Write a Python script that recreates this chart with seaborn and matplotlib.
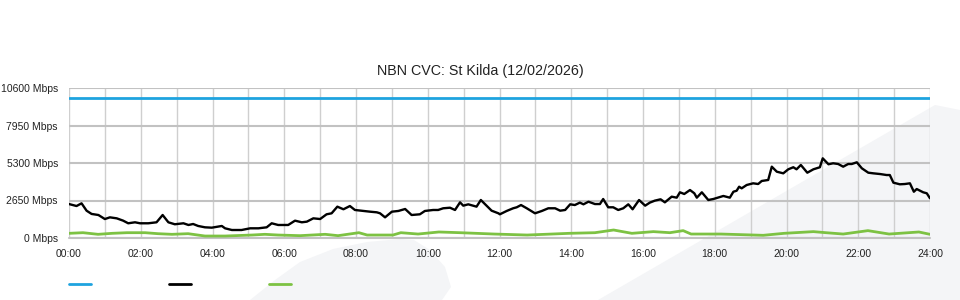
import matplotlib
matplotlib.use("Agg")
import matplotlib.pyplot as plt
from matplotlib.patches import Polygon
from matplotlib.lines import Line2D
import seaborn as sns
import pandas as pd
import numpy as np

# ---------------- data ----------------
title = "NBN CVC: St Kilda (12/02/2026)"
capacity_hours = [0, 24]
capacity_mbps = [9900, 9900]

traffic_hours = [0.00, 0.21, 0.35, 0.49, 0.63, 0.82, 1.00, 1.14, 1.33, 1.51, 1.65, 1.84, 1.98,
                 2.21, 2.44, 2.61, 2.77, 2.95, 3.19, 3.33, 3.46, 3.60, 3.79, 3.98, 4.26, 4.35,
                 4.54, 4.81, 5.05, 5.28, 5.51, 5.65, 5.83, 5.97, 6.11, 6.30, 6.49, 6.63, 6.81,
                 7.00, 7.18, 7.32, 7.48, 7.65, 7.83, 7.97, 8.20, 8.39, 8.58, 8.67, 8.81, 9.00,
                 9.18, 9.37, 9.55, 9.78, 9.92, 10.15, 10.29, 10.43, 10.62, 10.76, 10.90, 10.99,
                 11.13, 11.36, 11.48, 11.64, 11.78, 11.97, 12.01, 12.20, 12.38, 12.48, 12.60,
                 12.76, 12.99, 13.18, 13.36, 13.55, 13.69, 13.83, 13.97, 14.10, 14.24, 14.34,
                 14.48, 14.66, 14.80, 14.89, 15.03, 15.17, 15.31, 15.45, 15.59, 15.71, 15.89,
                 16.06, 16.19, 16.33, 16.49, 16.61, 16.80, 16.94, 17.03, 17.15, 17.31, 17.43,
                 17.50, 17.64, 17.82, 17.96, 18.24, 18.42, 18.52, 18.61, 18.68, 18.75, 18.89,
                 19.07, 19.21, 19.31, 19.49, 19.59, 19.73, 19.91, 20.05, 20.19, 20.28, 20.40,
                 20.58, 20.75, 20.93, 21.01, 21.17, 21.30, 21.44, 21.58, 21.72, 21.82, 21.96,
                 22.10, 22.28, 22.42, 22.61, 22.79, 22.88, 22.98, 23.16, 23.30, 23.44, 23.55,
                 23.63, 23.81, 23.91, 24.00]
traffic_mbps = [2400, 2260, 2450, 1930, 1700, 1625, 1340, 1460, 1390, 1225, 1040, 1110, 1040,
                1040, 1110, 1625, 1110, 970, 1040, 920, 990, 850, 755, 730, 850, 685,
                565, 565, 685, 685, 755, 1040, 920, 920, 920, 1225, 1110, 1155, 1390,
                1340, 1675, 1745, 2215, 2030, 2260, 1980, 1910, 1860, 1815, 1745, 1460, 1860,
                1910, 2050, 1625, 1675, 1910, 1980, 1980, 2100, 2140, 1980, 2520, 2285,
                2380, 2215, 2685, 2285, 1930, 1745, 1675, 1910, 2100, 2170, 2330,
                2100, 1745, 1910, 2100, 2100, 1930, 1980, 2380, 2330, 2500, 2380,
                2565, 2400, 2400, 2755, 2170, 2170, 1980, 2100, 2380, 2030, 2685,
                2285, 2500, 2640, 2735, 2520, 2920, 2850, 3230, 3110, 3390, 3160,
                2850, 3230, 2685, 2755, 2970, 2850, 3270, 3340, 3625, 3510, 3745,
                3865, 3815, 4030, 4100, 5040, 4685, 4570, 4855, 5000, 4855, 5160,
                4615, 4855, 5000, 5630, 5210, 5280, 5230, 5040, 5230, 5230, 5350,
                4925, 4615, 4570, 4520, 4450, 4450, 3910, 3795, 3815, 3865, 3270,
                3460, 3230, 3160, 2805]

other_hours = [0.00, 0.39, 0.81, 1.20, 1.62, 2.12, 2.48, 2.87, 3.32, 3.79, 4.35, 5.10, 5.46,
               5.83, 6.44, 7.14, 7.50, 8.08, 8.31, 9.03, 9.25, 9.73, 10.31, 10.90, 11.85,
               12.77, 13.46, 13.94, 14.66, 15.18, 15.69, 16.29, 16.75, 17.12, 17.34, 18.17,
               19.35, 19.93, 20.75, 21.10, 21.58, 22.27, 22.86, 23.69, 24.00]
other_mbps = [330, 375, 260, 330, 375, 375, 305, 260, 305, 140, 140, 210, 260,
              210, 165, 260, 165, 375, 210, 210, 375, 280, 425, 375, 280,
              210, 280, 330, 375, 565, 330, 450, 375, 520, 280, 280,
              190, 330, 450, 375, 280, 520, 280, 425, 260]

y_ticks = [0, 2650, 5300, 7950, 10600]
y_labels = [f"{v} Mbps" for v in y_ticks]
x_ticks = list(range(0, 25, 2))
x_labels = [f"{h:02d}:00" for h in x_ticks]

# ---------------- styling ----------------
sns.set_style("white")
plt.rcParams["font.family"] = ["Liberation Sans", "DejaVu Sans"]

W, H = 960, 300
fig = plt.figure(figsize=(9.6, 3.0), dpi=100)
fig.patch.set_facecolor("white")

# light watermark shapes in the background (pixel coords, y downwards)
def px(points):
    return [(x / W, 1 - y / H) for x, y in points]

wm_color = "#f4f5f7"
shape1 = [(250, 300), (275, 280), (300, 262), (333, 249), (367, 242), (400, 239), (414, 240),
          (430, 250), (445, 267), (451, 287), (442, 300)]
shape2 = [(598, 300), (935, 105), (960, 110), (960, 300)]
for sh in (shape1, shape2):
    fig.patches.append(Polygon(px(sh), closed=True, transform=fig.transFigure,
                               facecolor=wm_color, edgecolor="none", zorder=-5))

ax = fig.add_axes([69 / W, 62 / H, (930 - 69) / W, 150 / H])
ax.set_zorder(2)
ax.set_facecolor("none")
ax.patch.set_alpha(0)

blue = "#1ea3df"
black = "#000000"
green = "#7dc243"

df_cap = pd.DataFrame({"hour": capacity_hours, "mbps": capacity_mbps})
df_tr = pd.DataFrame({"hour": traffic_hours, "mbps": traffic_mbps})
df_ot = pd.DataFrame({"hour": other_hours, "mbps": other_mbps})

sns.lineplot(data=df_cap, x="hour", y="mbps", ax=ax, color=blue, linewidth=2.0, zorder=5)
sns.lineplot(data=df_tr, x="hour", y="mbps", ax=ax, color=black, linewidth=1.7, zorder=6)
sns.lineplot(data=df_ot, x="hour", y="mbps", ax=ax, color=green, linewidth=2.0, zorder=5)

ax.set_xlim(0, 24)
ax.set_ylim(0, 10600)
ax.set_xlabel("")
ax.set_ylabel("")

ax.set_xticks(x_ticks)
ax.set_xticklabels(x_labels)
ax.set_xticks(range(0, 25), minor=True)
ax.set_yticks(y_ticks)
ax.set_yticklabels(y_labels)

ax.tick_params(axis="x", which="major", length=5, width=1, color="#c0c0c0",
               labelsize=7.5, pad=3, labelcolor="#222222")
ax.tick_params(axis="x", which="minor", length=0)
ax.tick_params(axis="y", length=0, labelsize=7.5, pad=8, labelcolor="#222222")

ax.grid(True, axis="x", which="both", color="#cfcfcf", linewidth=1.0, zorder=1)
ax.grid(True, axis="y", which="major", color="#c2c2c2", linewidth=1.5, zorder=1)
ax.set_axisbelow(True)
for s in ax.spines.values():
    s.set_visible(False)
ax.axhline(0, color="#c2c2c2", linewidth=1.5, zorder=1, clip_on=False)

fig.text(0.5, 1 - 71 / H, title, ha="center", va="center", fontsize=10.3, color="#222222")

# legend (swatches only, no labels)
handles = [Line2D([], [], color=blue, linewidth=2.0),
           Line2D([], [], color=black, linewidth=2.0),
           Line2D([], [], color=green, linewidth=2.0)]
fig.legend(handles, ["", "", ""], ncol=3, loc="center left",
           bbox_to_anchor=(69 / W, 1 - 285 / H), frameon=False, fontsize=8,
           handlelength=2.0, handletextpad=0.0, columnspacing=7.0,
           borderpad=0, borderaxespad=0)

fig.savefig("out.png", dpi=100, facecolor="white")
